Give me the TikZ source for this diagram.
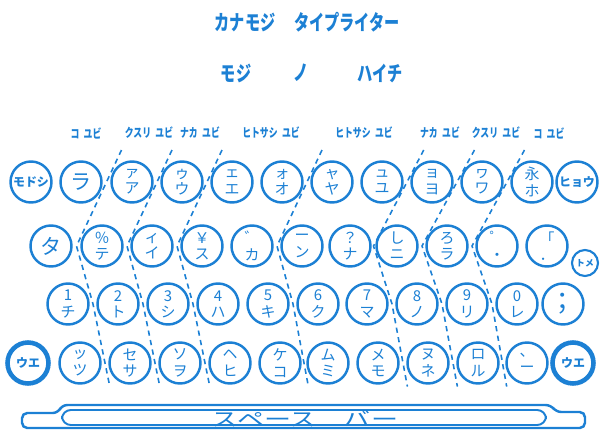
\documentclass[tikz,border=0pt]{standalone}
\usepackage{fontspec}
\usetikzlibrary{calc}
\newfontfamily\jp{Noto Sans CJK JP}
\newfontfamily\jpn[FakeStretch=0.72]{Noto Sans CJK JP}
\newfontfamily\jpw[FakeStretch=1.4]{Noto Sans CJK JP}
\definecolor{kblue}{RGB}{28,128,212}
\tikzset{
  key/.style={circle,draw=kblue,line width=1.4pt,minimum size=0.82cm,inner sep=0pt,
    text=kblue,align=center,font=\jp\fontsize{8.5}{9.3}\selectfont},
  bigkey/.style={key,font=\jp\fontsize{12}{12}\selectfont},
  fnkey/.style={key,font=\jp\bfseries\fontsize{6.8}{6.8}\selectfont},
  shiftkey/.style={fnkey,line width=2.6pt},
  zone/.style={kblue,line width=0.9pt,dash pattern=on 3pt off 2.5pt},
  lbl/.style={text=kblue,font=\jpn\bfseries\fontsize{7}{7}\selectfont},
  head/.style={text=kblue,font=\jpn\bfseries\fontsize{12}{12}\selectfont}
}
\begin{document}
\begin{tikzpicture}[x=0.02cm,y=-0.02cm]
  \useasboundingbox (0,0) rectangle (606,430);
  \node[head] (kanamoji) at (245,22) {カナモジ};
  \node[head] (typewriter) at (347,22) {タイプライター};
  \node[head] (moji) at (236,73) {モジ};
  \node[head] (no) at (301,73) {ノ};
  \node[head] (haichi) at (380,73) {ハイチ};
  \node[lbl] (f1) at (86,133) {コ\hspace{0.35em}ユビ};
  \node[lbl] (f2) at (149,133) {クスリ\hspace{0.35em}ユビ};
  \node[lbl] (f3) at (200,133) {ナカ\hspace{0.35em}ユビ};
  \node[lbl] (f4) at (271,133) {ヒトサシ\hspace{0.35em}ユビ};
  \node[lbl] (f5) at (364,133) {ヒトサシ\hspace{0.35em}ユビ};
  \node[lbl] (f6) at (440,133) {ナカ\hspace{0.35em}ユビ};
  \node[lbl] (f7) at (496,133) {クスリ\hspace{0.35em}ユビ};
  \node[lbl] (f8) at (549,133) {コ\hspace{0.35em}ユビ};
  \node[fnkey] (modoshi) at (31,182) {モドシ};
  \node[bigkey] (a1) at (81,182) {ラ};
  \node[key] (a2) at (132,182) {ァ\\ア};
  \node[key] (a3) at (182,182) {ゥ\\ウ};
  \node[key] (a4) at (232,182) {ェ\\エ};
  \node[key] (a5) at (282,182) {ォ\\オ};
  \node[key] (a6) at (332,182) {ャ\\ヤ};
  \node[key] (a7) at (382,182) {ュ\\ユ};
  \node[key] (a8) at (432,182) {ョ\\ヨ};
  \node[key] (a9) at (482,182) {ヮ\\ワ};
  \node[key] (a10) at (532,182) {永\\ホ};
  \node[fnkey] (hyou) at (577,182) {ヒョウ};
  \node[bigkey] (b1) at (51,246) {タ};
  \node[key] (b2) at (102,246) {％\\テ};
  \node[key] (b3) at (152,246) {ィ\\イ};
  \node[key] (b4) at (202,246) {￥\\ス};
  \node[key] (b5) at (252,246) {゛\\カ};
  \node[key] (b6) at (302,246) {ー\\ン};
  \node[key] (b7) at (350,246) {？\\ナ};
  \node[key] (b8) at (397,246) {し\\ニ};
  \node[key] (b9) at (447,246) {ろ\\ラ};
  \node[key] (b10) at (497,246) {゜\\・};
  \node[key] (b11) at (547,246) {「\\．};
  \node[fnkey,minimum size=0.52cm,line width=1.2pt,font=\jp\bfseries\fontsize{5}{5}\selectfont] (tome) at (585,263) {トメ};
  \node[key] (c1) at (68,304) {1\\チ};
  \node[key] (c2) at (118,304) {2\\ト};
  \node[key] (c3) at (168,304) {3\\シ};
  \node[key] (c4) at (218,304) {4\\ハ};
  \node[key] (c5) at (268,304) {5\\キ};
  \node[key] (c6) at (318,304) {6\\ク};
  \node[key] (c7) at (367,304) {7\\マ};
  \node[key] (c8) at (417,304) {8\\ノ};
  \node[key] (c9) at (467,304) {9\\リ};
  \node[key] (c10) at (517,304) {0\\レ};
  \node[bigkey,font=\jp\fontsize{15}{15}\selectfont] (c11) at (563,304) {；};
  \node[shiftkey] (ueL) at (28,363) {ウエ};
  \node[key] (d1) at (80,363) {ッ\\ツ};
  \node[key] (d2) at (130,363) {セ\\サ};
  \node[key] (d3) at (180,363) {ソ\\ヲ};
  \node[key] (d4) at (230,363) {ヘ\\ヒ};
  \node[key] (d5) at (280,363) {ケ\\コ};
  \node[key] (d6) at (328,363) {ム\\ミ};
  \node[key] (d7) at (378,363) {メ\\モ};
  \node[key] (d8) at (428,363) {ヌ\\ネ};
  \node[key] (d9) at (478,363) {ロ\\ル};
  \node[key] (d10) at (527,363) {、\\ー};
  \node[shiftkey] (ueR) at (573,363) {ウエ};
  \foreach \j in {1,2,3,5,7,8,9}{
    \pgfmathtruncatemacro\k{\j+1}
    \coordinate (p1) at ($(a\j)!0.5!(a\k)$);
    \coordinate (p2) at ($(b\j)!0.5!(b\k)$);
    \coordinate (p3) at ($(c\j)!0.5!(c\k)$);
    \coordinate (p4) at ($(d\j)!0.5!(d\k)$);
    \draw[zone] ($(p1)!-0.5!(p2)$) -- (p1) -- (p2) -- (p3) -- (p4) -- ($(p4)!-0.4!(p3)$);
  }
  \draw[kblue,line width=1.4pt,rounded corners=3pt] (22,413) -- (58,413) -- (62,405) -- (551,405)
    -- (556,412) -- (585,412) -- (585,428) -- (22,428) -- cycle;
  \draw[kblue,line width=1.1pt,rounded corners=5pt] (62,410) rectangle (546,425);
  \node[text=kblue,font=\jpw\fontsize{11}{11}\selectfont] (spacebar) at (305,419) {スペース　バー};
\end{tikzpicture}
\end{document}
